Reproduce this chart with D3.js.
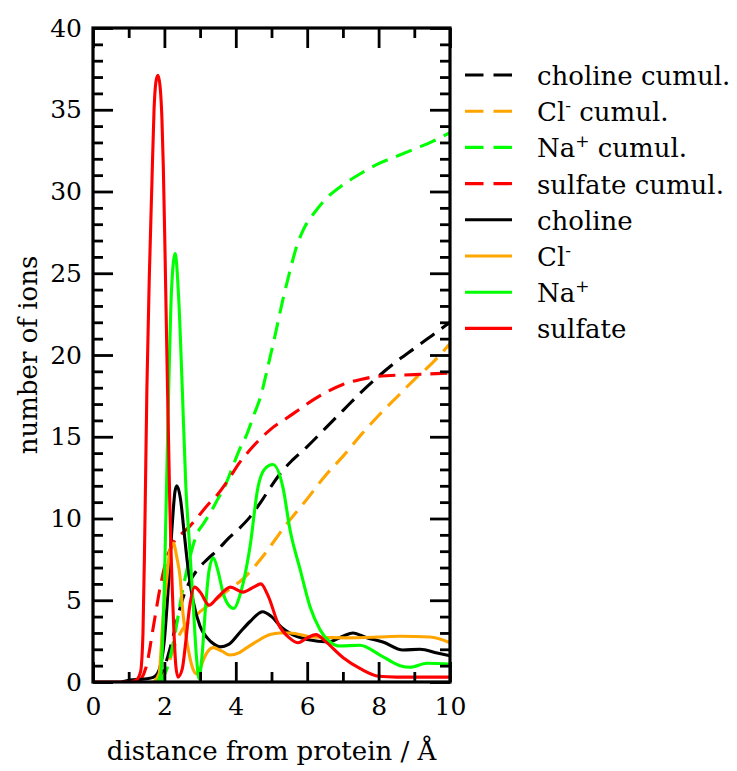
<!DOCTYPE html>
<html lang="en">
<head>
    <meta charset="UTF-8">
    <title>number of ions</title>
    <script src="https://cdn.jsdelivr.net/npm/d3@7"></script>
    <style>
        body { margin: 0; background: #fff; }
        text { font-family: "DejaVu Serif", serif; fill: #000; }
    </style>
</head>
<body>
    <div id="root"></div>
    <script>
        // legend labels, in drawing order (cumulative sets first)
        const seriesNames = ['choline cumul.', 'Cl- cumul.', 'Na+ cumul.', 'sulfate cumul.',
                             'choline', 'Cl-', 'Na+', 'sulfate'];
        const seriesColors = ['#000000', '#ffa500', '#00ff00', '#ff0000',
                              '#000000', '#ffa500', '#00ff00', '#ff0000'];
        const xTicks = [0, 2, 4, 6, 8, 10];
        const yTicks = [0, 5, 10, 15, 20, 25, 30, 35, 40];

        // [distance, count]
        const cholineCumul = [[1.7,0],[1.9,0.3],[2.0,0.9],[2.1,1.6],[2.2,2.4],[2.3,3.3],[2.4,4.2],[2.5,5.0],
            [2.7,6.1],[2.9,6.8],[3.2,7.5],[3.5,8.1],[3.8,8.8],[4.1,9.4],[4.4,10.1],[4.7,11.0],[5.0,12.0],
            [5.3,12.9],[5.6,13.6],[6.0,14.4],[6.5,15.5],[7.0,16.6],[7.5,17.7],[8.0,18.7],[8.5,19.6],
            [9.0,20.4],[9.5,21.2],[10,22.0]];
        const clCumul = [[1.8,0],[1.95,0.3],[2.1,1.0],[2.25,2.0],[2.4,2.8],[2.6,3.5],[2.8,3.9],[3.0,4.3],
            [3.3,4.8],[3.6,5.3],[3.9,5.8],[4.2,6.3],[4.5,7.0],[4.8,7.8],[5.1,8.7],[5.4,9.6],[5.7,10.4],
            [6.0,11.2],[6.5,12.6],[7.0,13.8],[7.5,15.1],[8.0,16.3],[8.5,17.4],[9.0,18.5],[9.5,19.5],[10,20.7]];
        const naCumul = [[1.9,0],[2.1,1.0],[2.3,3.0],[2.5,5.5],[2.7,7.5],[2.9,9.0],[3.1,9.7],[3.3,10.4],
            [3.5,11.2],[3.7,12.0],[3.9,13.1],[4.1,14.2],[4.3,15.1],[4.5,16.3],[4.7,17.5],[4.9,19.3],
            [5.1,21.2],[5.3,23.2],[5.5,25.0],[5.7,26.6],[5.9,27.7],[6.2,28.7],[6.5,29.5],[7.0,30.4],
            [7.5,31.1],[8.0,31.7],[8.5,32.15],[9.0,32.6],[9.5,33.05],[10,33.6]];
        const sulfateCumul = [[1.3,0],[1.5,1.0],[1.7,3.5],[1.9,6.0],[2.1,7.8],[2.3,8.7],[2.5,9.1],[2.7,9.5],
            [2.9,10.0],[3.2,10.8],[3.5,11.5],[3.8,12.4],[4.1,13.4],[4.4,14.2],[4.7,14.9],[5.0,15.5],
            [5.4,16.1],[5.8,16.7],[6.2,17.3],[6.6,17.8],[7.0,18.2],[7.5,18.5],[8.0,18.7],[9.0,18.8],[10,18.9]];

        const choline = [[0.8,0],[1.0,0.1],[1.5,0.2],[1.7,0.3],[1.8,0.5],[1.9,1.1],[2.0,2.6],[2.1,5.5],
            [2.2,9.0],[2.3,11.7],[2.35,12.0],[2.45,11.2],[2.55,9.2],[2.65,7.2],[2.8,5.0],[3.0,3.4],
            [3.2,2.7],[3.4,2.3],[3.56,2.15],[3.8,2.3],[4.1,3.0],[4.4,3.7],[4.75,4.3],[5.0,4.0],[5.3,3.3],
            [5.5,3.0],[6.0,2.6],[6.6,2.45],[7.0,2.8],[7.28,3.0],[7.67,2.7],[8.12,2.45],[8.68,1.96],
            [9.16,2.0],[9.64,1.77],[10,1.6]];
        const chloride = [[1.7,0],[1.85,0.5],[1.97,4.2],[2.07,6.4],[2.15,8.0],[2.25,8.5],[2.35,7.6],
            [2.44,6.4],[2.52,4.2],[2.66,2.1],[2.8,0.8],[2.9,0.5],[3.0,0.8],[3.1,1.4],[3.36,2.1],[3.6,1.9],
            [3.83,1.65],[4.1,1.8],[4.31,2.1],[4.6,2.5],[4.96,2.9],[5.24,3.0],[5.52,3.0],[6.16,2.75],
            [7.1,2.7],[8.0,2.75],[8.6,2.8],[9.44,2.75],[10,2.4]];
        const sodium = [[1.8,0],[1.9,0.5],[2.0,6],[2.1,16],[2.2,24],[2.3,26.2],[2.4,23.5],[2.5,18],[2.6,12],
            [2.7,8.5],[2.8,5],[2.9,1.5],[2.97,0.2],[3.05,1.5],[3.15,4.5],[3.25,6.8],[3.37,7.6],[3.5,6.8],
            [3.65,5.4],[3.8,4.7],[3.95,4.5],[4.1,5.2],[4.4,8.3],[4.62,11.9],[4.8,13.0],[5.04,13.3],
            [5.32,11.9],[5.52,9.3],[5.8,6.9],[6.08,4.6],[6.36,3.2],[6.64,2.45],[6.92,2.2],[7.48,2.25],
            [8.04,1.65],[8.6,1.0],[8.88,0.9],[9.36,1.15],[10,1.1]];
        const sulfate = [[0,0],[1.0,0],[1.2,0.1],[1.33,0.6],[1.4,3],[1.45,9],[1.51,18],[1.58,25],
            [1.65,30.5],[1.71,35],[1.77,36.8],[1.82,37.1],[1.88,36.4],[1.93,34.5],[1.97,31.5],[2.02,26],
            [2.07,20],[2.15,11],[2.25,4],[2.32,1],[2.38,0.3],[2.5,0.8],[2.6,2.5],
            [2.7,4.5],[2.85,5.8],[3.0,5.5],[3.25,4.7],[3.5,5.2],[3.85,5.8],[4.2,5.5],[4.5,5.8],[4.7,6.0],
            [4.9,5.3],[5.2,3.5],[5.5,2.7],[5.75,2.4],[6.0,2.7],[6.25,2.9],[6.5,2.5],[7.0,1.5],[7.5,0.8],
            [8.0,0.35],[8.5,0.3],[9.0,0.3],[10,0.3]];

        const seriesData = [cholineCumul, clCumul, naCumul, sulfateCumul,
                            choline, chloride, sodium, sulfate];

        const width = 737, height = 771;
        const margin = {left: 93, top: 28, right: 287, bottom: 89};
        const plotW = width - margin.left - margin.right;
        const plotH = height - margin.top - margin.bottom;

        const svg = d3.select('#root').append('svg')
            .attr('width', width)
            .attr('height', height);

        const x = d3.scaleLinear().domain([0, 10]).range([margin.left, margin.left + plotW]);
        const y = d3.scaleLinear().domain([0, 40]).range([margin.top + plotH, margin.top]);

        svg.append('clipPath').attr('id', 'clip')
            .append('rect')
            .attr('x', margin.left).attr('y', margin.top)
            .attr('width', plotW).attr('height', plotH);

        const line = d3.line()
            .x(d => x(d[0]))
            .y(d => y(d[1]))
            .curve(d3.curveMonotoneX);

        const curves = svg.append('g').attr('clip-path', 'url(#clip)');
        seriesData.forEach((data, i) => {
            curves.append('path')
                .datum(data)
                .attr('d', line)
                .attr('fill', 'none')
                .attr('stroke', seriesColors[i])
                .attr('stroke-width', 3.1)
                .attr('stroke-linejoin', 'round')
                .attr('stroke-dasharray', i < 4 ? '17,9' : null);
        });

        // axes: ticks point inward, on all four sides
        function styleAxis(g) {
            g.select('.domain').remove();
            g.selectAll('line').attr('stroke', '#000').attr('stroke-width', 2.8);
            g.selectAll('text').style('font-size', '25px').attr('fill', '#000');
        }
        const minorX = d3.range(1, 10, 2);
        const minorY = d3.range(0, 41).filter(v => v % 5 !== 0);

        svg.append('g')
            .attr('transform', `translate(0,${y(0)})`)
            .call(d3.axisBottom(x).tickValues(xTicks).tickSize(-20).tickPadding(15).tickFormat(d3.format('d')))
            .call(styleAxis);
        svg.append('g')
            .attr('transform', `translate(0,${y(0)})`)
            .call(d3.axisBottom(x).tickValues(minorX).tickSize(-10).tickFormat(''))
            .call(styleAxis);
        svg.append('g')
            .attr('transform', `translate(0,${y(40)})`)
            .call(d3.axisTop(x).tickValues(xTicks).tickSize(-20).tickFormat(''))
            .call(styleAxis);
        svg.append('g')
            .attr('transform', `translate(0,${y(40)})`)
            .call(d3.axisTop(x).tickValues(minorX).tickSize(-10).tickFormat(''))
            .call(styleAxis);

        svg.append('g')
            .attr('transform', `translate(${x(0)},0)`)
            .call(d3.axisLeft(y).tickValues(yTicks).tickSize(-20).tickPadding(11).tickFormat(d3.format('d')))
            .call(styleAxis);
        svg.append('g')
            .attr('transform', `translate(${x(0)},0)`)
            .call(d3.axisLeft(y).tickValues(minorY).tickSize(-10).tickFormat(''))
            .call(styleAxis);
        svg.append('g')
            .attr('transform', `translate(${x(10)},0)`)
            .call(d3.axisRight(y).tickValues(yTicks).tickSize(-20).tickFormat(''))
            .call(styleAxis);
        svg.append('g')
            .attr('transform', `translate(${x(10)},0)`)
            .call(d3.axisRight(y).tickValues(minorY).tickSize(-10).tickFormat(''))
            .call(styleAxis);

        svg.append('rect')
            .attr('x', margin.left).attr('y', margin.top)
            .attr('width', plotW).attr('height', plotH)
            .attr('fill', 'none')
            .attr('stroke', '#000')
            .attr('stroke-width', 3.2);

        // axis titles
        svg.append('text')
            .attr('x', margin.left + plotW / 2)
            .attr('y', 760)
            .attr('text-anchor', 'middle')
            .style('font-size', '26px')
            .text('distance from protein / Å');
        svg.append('text')
            .attr('transform', `translate(37,${margin.top + plotH / 2}) rotate(-90)`)
            .attr('text-anchor', 'middle')
            .style('font-size', '26px')
            .text('number of ions');

        // legend
        const legend = svg.append('g');
        seriesNames.forEach((name, i) => {
            const ly = 75 + i * 36.2;
            legend.append('line')
                .attr('x1', 465).attr('x2', 512)
                .attr('y1', ly).attr('y2', ly)
                .attr('stroke', seriesColors[i])
                .attr('stroke-width', 3.1)
                .attr('stroke-dasharray', i < 4 ? '18.5,10' : null);
            const t = legend.append('text')
                .attr('x', 537)
                .attr('y', ly + 10)
                .style('font-size', '26px');
            const m = name.match(/^(\w+)([+-])(.*)$/);
            if (m) {
                t.append('tspan').text(m[1]);
                t.append('tspan').attr('dy', -10).style('font-size', '17px')
                    .text(m[2] === '-' ? '-' : '+');
                t.append('tspan').attr('dy', 10).text(m[3]);
            } else {
                t.text(name);
            }
        });
    </script>
</body>
</html>
